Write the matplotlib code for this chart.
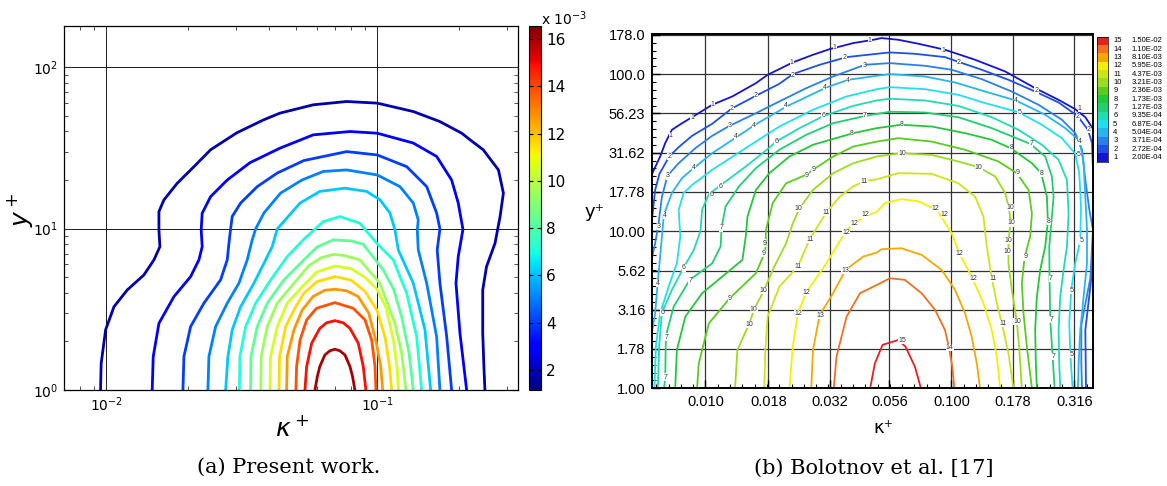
import matplotlib
matplotlib.use("Agg")
import matplotlib.pyplot as plt
from matplotlib import colors as mcolors
from matplotlib.ticker import FixedLocator, NullFormatter
import numpy as np

# ---------------- (a) present work ----------------
# contour levels (units of 1e-3), innermost is the highest
a_levels = [1.8, 2.9, 4.0, 5.0, 6.1, 7.2, 8.3, 9.4, 10.5, 11.6, 12.7, 13.8, 14.9, 16.0]
a_cbar_range = (1.15, 16.55)
a_cbar_ticks = [2, 4, 6, 8, 10, 12, 14, 16]

# each contour: (kappa+, y+) points
a_c01 = [(0.00953, 1.0), (0.00958, 1.46), (0.00995, 2.36), (0.01068, 3.28), (0.01196, 4.17),
         (0.01377, 5.16), (0.0150, 6.40), (0.01578, 7.73), (0.01565, 9.81), (0.01565, 12.75),
         (0.01633, 15.07), (0.01828, 19.1), (0.02107, 24.2), (0.02428, 30.8), (0.0303, 39.2),
         (0.0381, 47.2), (0.0437, 51.9), (0.0581, 58.5), (0.0771, 61.3), (0.100, 59.9),
         (0.136, 53.1), (0.170, 46.1), (0.205, 39.0), (0.220, 35.5), (0.246, 30.8), (0.280, 23.1),
         (0.292, 16.6), (0.284, 11.9), (0.272, 8.12), (0.253, 5.81), (0.245, 4.17), (0.245, 2.25),
         (0.2475, 1.39), (0.2496, 1.0)]
a_c02 = [(0.01478, 1.0), (0.01491, 1.61), (0.01565, 2.59), (0.01778, 3.79), (0.02048, 5.04),
         (0.02198, 6.40), (0.02260, 7.73), (0.02241, 9.82), (0.02260, 12.46), (0.02428, 15.79),
         (0.02796, 20.0), (0.0339, 25.6), (0.04375, 31.5), (0.05805, 38.1), (0.0793, 39.95),
         (0.100, 39.0), (0.1358, 33.9), (0.1656, 28.0), (0.1881, 20.0), (0.1990, 14.4),
         (0.2071, 9.89), (0.1990, 6.71), (0.1952, 4.59), (0.2019, 2.25), (0.2137, 1.0)]
a_c03 = [(0.01919, 1.0), (0.01935, 1.61), (0.02048, 2.47), (0.02293, 3.45), (0.02642, 4.81),
         (0.02796, 6.40), (0.02837, 8.12), (0.02877, 9.95), (0.02917, 11.9), (0.03133, 14.4),
         (0.03607, 18.2), (0.04276, 22.1), (0.0536, 26.4), (0.0771, 30.0), (0.100, 28.6),
         (0.1284, 24.2), (0.1522, 18.2), (0.1656, 12.5), (0.1703, 9.95), (0.1664, 7.38),
         (0.1703, 4.59), (0.1804, 2.14), (0.1881, 1.0)]
a_c04 = [(0.02373, 1.0), (0.02393, 1.61), (0.02533, 2.47), (0.02796, 3.45), (0.03088, 4.59),
         (0.03313, 6.40), (0.03457, 8.51), (0.03558, 9.95), (0.03819, 12.5), (0.04399, 16.6),
         (0.05274, 20.0), (0.06322, 22.6), (0.0771, 23.1), (0.100, 21.5), (0.1213, 18.2),
         (0.1358, 14.4), (0.1417, 11.3), (0.1405, 9.82), (0.1417, 7.38), (0.1522, 4.59),
         (0.1656, 2.14), (0.1703, 1.0)]
a_c05 = [(0.02758, 1.0), (0.02812, 1.61), (0.02917, 2.36), (0.03133, 3.28), (0.03508, 4.59),
         (0.03819, 6.10), (0.04097, 7.73), (0.04276, 9.95), (0.0519, 14.4), (0.0614, 17.0),
         (0.0760, 17.8), (0.0914, 17.0), (0.1023, 15.1), (0.1114, 12.5), (0.1162, 9.82),
         (0.1196, 7.38), (0.1358, 4.59), (0.150, 2.36), (0.1574, 1.0)]
a_c06 = [(0.0310, 1.0), (0.03113, 1.61), (0.03269, 2.47), (0.03558, 3.45), (0.04044, 4.81),
         (0.04655, 6.71), (0.0540, 8.7), (0.0632, 11.05), (0.0728, 11.87), (0.0863, 10.8),
         (0.0995, 8.12), (0.1146, 6.40), (0.1284, 3.98), (0.1398, 2.14), (0.1458, 1.0)]
a_c07 = [(0.0341, 1.0), (0.0342, 1.61), (0.03607, 2.47), (0.03927, 3.45), (0.04524, 4.81),
         (0.05364, 6.40), (0.0600, 7.7), (0.0688, 8.51), (0.0800, 8.4), (0.0888, 8.0),
         (0.1052, 5.55), (0.1150, 4.2), (0.1230, 2.85), (0.1310, 1.7), (0.1358, 1.0)]
a_c08 = [(0.0372, 1.0), (0.0373, 1.61), (0.03927, 2.47), (0.04276, 3.45), (0.04927, 4.59),
         (0.0560, 5.9), (0.0620, 6.6), (0.0690, 6.93), (0.0760, 6.8), (0.0863, 6.40),
         (0.1023, 4.59), (0.1162, 2.59), (0.1230, 1.7), (0.1276, 1.0)]
a_c09 = [(0.0402, 1.0), (0.0404, 1.61), (0.04276, 2.47), (0.04655, 3.45), (0.05287, 4.37),
         (0.0600, 5.4), (0.0699, 5.87), (0.0800, 5.65), (0.0900, 5.0), (0.1000, 4.2),
         (0.1080, 3.2), (0.1150, 2.0), (0.1185, 1.35), (0.1196, 1.0)]
a_c10 = [(0.0434, 1.0), (0.0436, 1.61), (0.04592, 2.47), (0.0500, 3.28), (0.05364, 3.98),
         (0.0600, 4.7), (0.0699, 5.04), (0.0800, 4.8), (0.0900, 4.1), (0.1000, 3.1),
         (0.1070, 2.1), (0.1110, 1.40), (0.1130, 1.0)]
a_c11 = [(0.0463, 1.0), (0.04655, 1.61), (0.04927, 2.36), (0.05287, 3.13), (0.0580, 3.8),
         (0.0640, 4.15), (0.0699, 4.21), (0.0770, 4.12), (0.0850, 3.8), (0.0930, 3.0),
         (0.0990, 2.0), (0.1030, 1.40), (0.1047, 1.0)]
a_c12 = [(0.0501, 1.0), (0.0504, 1.40), (0.0519, 2.04), (0.0549, 2.72), (0.0597, 3.21),
         (0.0698, 3.48), (0.0815, 3.21), (0.0901, 2.72), (0.0954, 2.04), (0.0981, 1.40),
         (0.0989, 1.0)]
a_c13 = [(0.0541, 1.0), (0.0549, 1.40), (0.0573, 1.95), (0.0614, 2.41), (0.0650, 2.61),
         (0.0698, 2.69), (0.0749, 2.61), (0.0793, 2.41), (0.0851, 1.95), (0.0888, 1.40),
         (0.0908, 1.0)]
a_c14 = [(0.0589, 1.0), (0.0601, 1.21), (0.0614, 1.40), (0.0641, 1.65), (0.0669, 1.75),
         (0.0698, 1.79), (0.0728, 1.75), (0.0760, 1.65), (0.0793, 1.40), (0.0811, 1.21),
         (0.0827, 1.0)]
a_contours = [a_c01, a_c02, a_c03, a_c04, a_c05, a_c06, a_c07,
              a_c08, a_c09, a_c10, a_c11, a_c12, a_c13, a_c14]

# ---------------- (b) Bolotnov et al. ----------------
b_levels = list(range(1, 16))
b_values = ["2.00E-04", "2.72E-04", "3.71E-04", "5.04E-04", "6.87E-04", "9.35E-04",
            "1.27E-03", "1.73E-03", "2.36E-03", "3.21E-03", "4.37E-03", "5.95E-03",
            "8.10E-03", "1.10E-02", "1.50E-02"]
b_colors = ["#1414d2", "#1e50e6", "#2a80ea", "#28b4f0", "#20e0f0", "#20dcb0", "#20d070",
            "#22c83a", "#5acc20", "#9cdc20", "#cce41c", "#f5f000", "#f5a800", "#f07020",
            "#e62020"]
b_xticks = [0.010, 0.018, 0.032, 0.056, 0.100, 0.178, 0.316]
b_xlabels = ["0.010", "0.018", "0.032", "0.056", "0.100", "0.178", "0.316"]
b_yticks = [1.0, 1.78, 3.16, 5.62, 10.0, 17.78, 31.62, 56.23, 100.0, 178.0]
b_ylabels = ["1.00", "1.78", "3.16", "5.62", "10.00", "17.78", "31.62", "56.23", "100.0", "178.0"]

b_c01 = [(0.00608, 23.4), (0.00654, 29.9), (0.00686, 36.4), (0.00730, 44.2), (0.00803, 48.7),
         (0.00882, 53.2), (0.01065, 63.8), (0.01286, 72.1), (0.01603, 87.6), (0.01790, 99.0),
         (0.02265, 118.7), (0.02736, 132.8), (0.03203, 144.3), (0.03991, 157.6), (0.04821, 165.5),
         (0.0520, 169.6), (0.0608, 165.5), (0.0734, 156.1), (0.0942, 142.9), (0.1249, 123.4),
         (0.1655, 104.0), (0.2192, 81.4), (0.2729, 68.6), (0.3191, 59.8), (0.3506, 53.2),
         (0.3791, 44.2)]
b_c02 = [(0.00608, 12.4), (0.00624, 18.3), (0.00650, 23.2), (0.00712, 29.9), (0.00778, 34.3),
         (0.00882, 40.5), (0.01065, 48.3), (0.01278, 60.4), (0.01603, 72.8), (0.01998, 86.8),
         (0.02265, 100.0), (0.02914, 114.7), (0.03748, 128.3), (0.04975, 134.7), (0.05623, 137.4),
         (0.0711, 134.7), (0.0942, 128.3), (0.1077, 119.2), (0.1329, 106.6), (0.1707, 92.0),
         (0.2192, 77.5), (0.2729, 66.0), (0.3252, 54.3), (0.3595, 44.2), (0.3732, 36.4),
         (0.3779, 21.2), (0.3779, 10.2), (0.3709, 5.02), (0.3506, 2.35), (0.3528, 1.0)]
b_c03 = [(0.00608, 6.90), (0.00624, 8.38), (0.00642, 10.7), (0.00665, 16.6), (0.00701, 22.6),
         (0.00778, 27.1), (0.00910, 33.8), (0.01065, 40.5), (0.01254, 46.9), (0.01603, 56.4),
         (0.01998, 67.0), (0.02569, 81.4), (0.03304, 96.6), (0.04456, 114.7), (0.05623, 117.5),
         (0.0781, 113.0), (0.1003, 106.6), (0.1329, 92.9), (0.1761, 77.5), (0.2262, 63.8),
         (0.2816, 51.2), (0.3191, 42.1), (0.3398, 33.0), (0.3506, 21.2), (0.3640, 13.7),
         (0.3767, 10.2), (0.3674, 5.02), (0.3377, 2.53), (0.3377, 1.44), (0.3398, 1.0)]
b_c04 = [(0.00608, 2.35), (0.00624, 3.00), (0.00638, 4.55), (0.00654, 6.90), (0.00665, 9.25),
         (0.00677, 12.7), (0.00730, 17.5), (0.00803, 21.8), (0.00887, 24.9), (0.01065, 31.4),
         (0.01246, 36.9), (0.01603, 48.0), (0.02161, 62.8), (0.03103, 82.2), (0.03807, 92.0),
         (0.04975, 97.6), (0.05623, 100.0), (0.0781, 96.6), (0.1035, 88.5), (0.1371, 77.5),
         (0.1829, 68.0), (0.2408, 55.1), (0.2905, 45.3), (0.3324, 37.6), (0.3451, 27.1),
         (0.3506, 16.6), (0.3561, 10.2), (0.3561, 6.25), (0.3451, 3.84), (0.3345, 2.35),
         (0.3293, 1.44), (0.3272, 1.0)]
b_c05 = [(0.00620, 1.0), (0.00628, 1.84), (0.00654, 3.00), (0.00708, 4.44), (0.00765, 6.25),
         (0.00790, 9.25), (0.00778, 13.7), (0.00815, 17.5), (0.00882, 19.7), (0.01065, 24.6),
         (0.01458, 33.8), (0.01998, 46.4), (0.02736, 59.3), (0.03748, 72.1), (0.04975, 80.2),
         (0.05623, 82.6), (0.0781, 80.2), (0.1067, 73.9), (0.1371, 65.4), (0.1875, 57.3),
         (0.2334, 47.6), (0.2816, 39.1), (0.3191, 31.1), (0.3313, 23.4), (0.3366, 14.4),
         (0.3345, 8.72), (0.3191, 6.25), (0.3073, 4.23), (0.3016, 2.59), (0.3045, 1.67),
         (0.3112, 1.0)]
b_c06 = [(0.00640, 1.0), (0.00648, 1.84), (0.00665, 3.03), (0.00730, 4.23), (0.00815, 5.87),
         (0.00896, 7.60), (0.00954, 10.0), (0.00969, 13.7), (0.01032, 17.2), (0.01141, 19.4),
         (0.01458, 25.8), (0.01790, 33.3), (0.01936, 37.2), (0.02413, 45.3), (0.03035, 54.3),
         (0.03991, 62.8), (0.04975, 68.0), (0.05623, 69.7), (0.0781, 68.0), (0.1067, 62.8),
         (0.1460, 53.2), (0.1875, 44.2), (0.2334, 35.5), (0.2729, 28.5), (0.2951, 21.2),
         (0.2998, 13.0), (0.2951, 7.99), (0.2860, 5.67), (0.2772, 3.84), (0.2729, 2.35),
         (0.2746, 1.44), (0.2772, 1.0)]
b_c07 = [(0.00679, 1.0), (0.00686, 1.19), (0.00690, 2.15), (0.00742, 3.31), (0.00863, 4.90),
         (0.01065, 6.25), (0.01152, 7.99), (0.01163, 10.6), (0.01208, 14.4), (0.01369, 19.3),
         (0.01603, 25.2), (0.01998, 33.0), (0.02569, 41.1), (0.03304, 48.7), (0.04484, 54.3),
         (0.05623, 57.6), (0.0781, 57.0), (0.1067, 53.2), (0.1460, 45.3), (0.2092, 36.0),
         (0.2408, 29.9), (0.2564, 22.3), (0.2604, 16.6), (0.2564, 12.4), (0.2501, 7.99),
         (0.2508, 5.02), (0.2524, 2.72), (0.2580, 1.63), (0.2629, 1.0)]
b_c08 = [(0.00753, 1.0), (0.00765, 1.75), (0.00828, 2.86), (0.00969, 4.03), (0.01170, 5.14),
         (0.01413, 6.57), (0.01458, 9.25), (0.01482, 12.4), (0.01603, 18.3), (0.01818, 23.4),
         (0.02195, 29.9), (0.02736, 35.5), (0.03991, 42.1), (0.04975, 45.3), (0.0623, 47.6),
         (0.0832, 46.4), (0.1137, 42.1), (0.1460, 38.2), (0.1739, 33.8), (0.2126, 27.1),
         (0.2320, 23.4), (0.2446, 16.6), (0.2469, 11.5), (0.2408, 7.99), (0.2298, 5.67),
         (0.2227, 3.84), (0.2192, 2.35), (0.2206, 1.44), (0.2227, 1.0)]
b_c09 = [(0.00924, 1.0), (0.00939, 1.44), (0.01032, 2.59), (0.01254, 3.74), (0.01603, 5.40),
         (0.01751, 7.42), (0.01762, 10.2), (0.01876, 15.1), (0.02128, 20.2), (0.02569, 22.9),
         (0.02736, 24.6), (0.03304, 29.9), (0.03991, 34.6), (0.04975, 37.2), (0.0608, 39.1),
         (0.0832, 37.2), (0.1137, 33.0), (0.1554, 27.8), (0.1846, 23.4), (0.2060, 18.3),
         (0.2126, 13.0), (0.2092, 9.25), (0.1984, 6.80), (0.1935, 4.67), (0.1965, 3.00),
         (0.2028, 1.84), (0.2126, 1.0)]
b_c10 = [(0.01319, 1.0), (0.01348, 1.75), (0.01505, 2.57), (0.01578, 3.19), (0.01734, 4.23),
         (0.01876, 5.67), (0.02128, 8.38), (0.02265, 11.2), (0.02413, 14.0), (0.02736, 18.3),
         (0.03304, 23.4), (0.03991, 27.1), (0.04975, 29.9), (0.0623, 31.4), (0.0832, 30.6),
         (0.1067, 27.8), (0.1289, 25.6), (0.1507, 22.3), (0.1655, 17.5), (0.1718, 13.9),
         (0.1739, 11.5), (0.1707, 8.38), (0.1707, 6.25), (0.1761, 4.23), (0.1846, 2.66),
         (0.1887, 1.84), (0.1935, 1.0)]
b_c11 = [(0.01734, 1.0), (0.01751, 1.75), (0.01790, 2.86), (0.01998, 4.44), (0.02375, 5.96),
         (0.02651, 8.89), (0.03103, 13.2), (0.03519, 16.6), (0.03991, 19.3), (0.04456, 20.9),
         (0.04975, 21.4), (0.0608, 23.4), (0.0832, 23.2), (0.1067, 20.2), (0.1249, 16.6),
         (0.1350, 12.4), (0.1393, 7.99), (0.1460, 5.02), (0.1531, 3.48), (0.1604, 2.59),
         (0.1707, 1.67), (0.1789, 1.0)]
b_c12 = [(0.02195, 1.0), (0.02265, 1.84), (0.02375, 3.00), (0.02569, 4.07), (0.03103, 6.25),
         (0.03748, 10.2), (0.04119, 11.5), (0.04456, 12.4), (0.04975, 13.3), (0.0537, 15.1),
         (0.0627, 16.0), (0.0734, 15.5), (0.0872, 13.7), (0.1003, 9.71), (0.1077, 7.24),
         (0.1218, 5.02), (0.1350, 3.48), (0.1460, 2.35), (0.1531, 1.59), (0.1579, 1.0)]
b_c13 = [(0.02693, 1.0), (0.02736, 1.75), (0.02914, 2.93), (0.03304, 4.03), (0.03713, 5.67),
         (0.04386, 6.90), (0.04975, 7.31), (0.0520, 7.68), (0.0627, 7.79), (0.0757, 7.07),
         (0.0913, 5.67), (0.1035, 4.23), (0.1137, 3.00), (0.1210, 2.13), (0.1269, 1.44),
         (0.1309, 1.0)]
b_c14 = [(0.03325, 1.0), (0.03410, 1.59), (0.03748, 2.86), (0.04250, 4.03), (0.04975, 4.55),
         (0.05623, 5.02), (0.0647, 4.90), (0.0757, 4.03), (0.0858, 3.16), (0.0942, 2.35),
         (0.0978, 1.82), (0.1009, 1.37), (0.1028, 1.0)]
b_c15 = [(0.04675, 1.0), (0.04885, 1.44), (0.0525, 1.89), (0.0608, 2.03), (0.0651, 1.84),
         (0.0711, 1.37), (0.0752, 1.0)]
b_contours = [b_c01, b_c02, b_c03, b_c04, b_c05, b_c06, b_c07, b_c08,
              b_c09, b_c10, b_c11, b_c12, b_c13, b_c14, b_c15]

# inline contour labels (kappa+, y+, text)
b_tags = [
    (0.0466, 164.7, "1"), (0.0335, 147.2, "1"), (0.0224, 118.1, "1"), (0.01069, 64.1, "1"),
    (0.00882, 53.0, "1"), (0.00722, 40.5, "1"), (0.0926, 142.2, "1"), (0.3331, 60.4, "1"),
    (0.0368, 127.7, "2"), (0.0227, 98.5, "2"), (0.0160, 73.5, "2"), (0.01278, 60.4, "2"),
    (0.00714, 29.8, "2"), (0.1073, 119.2, "2"), (0.2218, 79.1, "2"), (0.3272, 53.5, "2"),
    (0.3623, 44.4, "2"),
    (0.0442, 114.1, "3"), (0.01256, 46.9, "3"), (0.00704, 22.5, "3"), (0.00645, 10.7, "3"),
    (0.0379, 90.7, "4"), (0.0307, 82.2, "4"), (0.0213, 62.8, "4"), (0.01577, 47.3, "4"),
    (0.01333, 39.9, "4"), (0.00897, 25.3, "4"), (0.00685, 12.6, "4"), (0.00639, 4.64, "4"),
    (0.1835, 67.6, "4"), (0.3331, 37.1, "4"),
    (0.1894, 57.0, "5"), (0.3296, 30.8, "5"), (0.3378, 8.68, "5"), (0.3073, 4.21, "5"),
    (0.3073, 1.65, "5"),
    (0.0302, 54.3, "6"), (0.0194, 37.1, "6"), (0.01151, 19.4, "6"), (0.01054, 17.1, "6"),
    (0.00816, 5.84, "6"), (0.00668, 3.03, "6"),
    (0.0444, 54.3, "7"), (0.01159, 10.5, "7"), (0.00866, 4.87, "7"), (0.00697, 2.12, "7"),
    (0.00685, 1.18, "7"), (0.2111, 36.2, "7"), (0.2533, 4.99, "7"), (0.2551, 2.74, "7"),
    (0.2597, 1.60, "7"),
    (0.0630, 47.8, "8"), (0.0395, 41.9, "8"), (0.1753, 33.9, "8"), (0.2321, 23.3, "8"),
    (0.2489, 11.5, "8"),
    (0.0258, 22.7, "9"), (0.0275, 24.7, "9"), (0.01734, 8.4, "9"), (0.01722, 7.2, "9"),
    (0.01256, 3.73, "9"), (0.1861, 23.5, "9"), (0.1996, 6.86, "9"),
    (0.0630, 31.2, "10"), (0.1293, 25.4, "10"), (0.0239, 13.9, "10"), (0.01722, 4.21, "10"),
    (0.01572, 3.17, "10"), (0.01507, 2.56, "10"), (0.1735, 14.1, "10"), (0.1753, 11.3, "10"),
    (0.1704, 8.7, "10"), (0.1693, 7.4, "10"), (0.1848, 2.67, "10"),
    (0.0442, 20.6, "11"), (0.0309, 13.2, "11"), (0.0266, 8.85, "11"), (0.0238, 5.93, "11"),
    (0.1472, 4.99, "11"), (0.1618, 2.58, "11"),
    (0.0447, 12.7, "12"), (0.0402, 11.2, "12"), (0.0374, 9.8, "12"), (0.0257, 4.07, "12"),
    (0.0238, 2.99, "12"), (0.1081, 7.21, "12"), (0.1227, 4.99, "12"), (0.0865, 14.0, "12"),
    (0.0940, 12.8, "12"),
    (0.0370, 5.64, "13"), (0.0293, 2.92, "13"),
    (0.0983, 1.81, "14"), (0.0630, 2.02, "15"),
]

SANS = ["Liberation Sans", "DejaVu Sans"]

fig = plt.figure(figsize=(11.67, 4.86), dpi=100)
ax_a = fig.add_axes([0.0546, 0.1975, 0.3897, 0.7490])
cax = fig.add_axes([0.4529, 0.1975, 0.0111, 0.7490])
ax_b = fig.add_axes([0.5590, 0.2010, 0.3779, 0.7290])
ax_leg = fig.add_axes([0.9398, 0.6673, 0.0097, 0.2572])

# ---- panel (a) ----
cmap = plt.get_cmap("jet")
norm = mcolors.Normalize(vmin=a_cbar_range[0], vmax=a_cbar_range[1])
for lvl, pts in zip(a_levels, a_contours):
    k, y = zip(*pts)
    ax_a.plot(k, y, color=cmap(norm(lvl)), lw=2.0, solid_joinstyle="round",
              solid_capstyle="butt")

ax_a.set_xscale("log")
ax_a.set_yscale("log")
ax_a.set_xlim(0.00697, 0.332)
ax_a.set_ylim(1, 180)
ax_a.grid(True, which="major", color="#1a1a1a", lw=0.7)
ax_a.xaxis.set_minor_formatter(NullFormatter())
ax_a.yaxis.set_minor_formatter(NullFormatter())
ax_a.tick_params(which="both", direction="in", top=True, right=True, labelsize=10,
                 color="#333333")
ax_a.tick_params(which="major", length=5, pad=4)
ax_a.tick_params(which="minor", length=3)
for sp in ax_a.spines.values():
    sp.set_linewidth(0.9)

fig.colorbar(plt.cm.ScalarMappable(norm=norm, cmap=cmap), cax=cax)
cax.set_yticks(a_cbar_ticks)
cax.tick_params(direction="in", length=3, labelsize=11, left=True, right=True)
cax.yaxis.set_minor_locator(FixedLocator([]))
fig.text(541 / 1167, 1 - 19 / 486, r"x 10$^{-3}$", fontsize=10, va="center", ha="left")

fig.text(20 / 1167, 1 - 210 / 486, r"$y^+$", fontsize=18, rotation=90,
         ha="center", va="center")
fig.text(292 / 1167, 1 - 428 / 486, r"$\kappa^+$", fontsize=18, ha="center", va="center")
fig.text(289 / 1167, 1 - 467 / 486, "(a) Present work.", fontsize=15,
         family="DejaVu Serif", ha="center", va="center")

# ---- panel (b) ----
for lvl, pts in zip(b_levels, b_contours):
    k, y = zip(*pts)
    ax_b.plot(k, y, color=b_colors[lvl - 1], lw=1.3, solid_joinstyle="round", zorder=2)

for k, y, txt in b_tags:
    ax_b.text(k, y, txt, fontsize=5.0, color="#333333", ha="center", va="center",
              family=SANS, zorder=3,
              bbox=dict(facecolor="white", edgecolor="none", pad=0.1))

ax_b.set_xscale("log")
ax_b.set_yscale("log")
ax_b.set_xlim(0.00608, 0.378)
ax_b.set_ylim(1, 180)
ax_b.xaxis.set_major_locator(FixedLocator(b_xticks))
ax_b.yaxis.set_major_locator(FixedLocator(b_yticks))
ax_b.set_xticklabels(b_xlabels, family=SANS, fontsize=10.5)
ax_b.set_yticklabels(b_ylabels, family=SANS, fontsize=10.5)
ax_b.xaxis.set_minor_locator(FixedLocator(10 ** np.arange(-2.25, -0.40, 0.05)))
ax_b.yaxis.set_minor_locator(FixedLocator(10 ** np.arange(0, 2.3, 0.05)))
ax_b.xaxis.set_minor_formatter(NullFormatter())
ax_b.yaxis.set_minor_formatter(NullFormatter())
ax_b.grid(True, which="major", color="#333333", lw=0.9, zorder=1)
ax_b.tick_params(which="both", direction="in", top=False, right=False)
ax_b.tick_params(which="major", length=6, width=1.0, pad=5)
ax_b.tick_params(which="minor", length=3, width=0.8)
for sp in ax_b.spines.values():
    sp.set_linewidth(1.4)

fig.text(595 / 1167, 1 - 212 / 486, "y\u207a", fontsize=13, family=["DejaVu Sans"],
         ha="center", va="center")
fig.text(883 / 1167, 1 - 428 / 486, "\u03ba\u207a", fontsize=13, family=["DejaVu Sans"],
         ha="center", va="center")
fig.text(874 / 1167, 1 - 468 / 486, "(b) Bolotnov et al. [17]", fontsize=15,
         family="DejaVu Serif", ha="center", va="center")

# ---- tecplot style contour legend ----
ax_leg.barh(b_levels, [1] * len(b_levels), height=1.0, color=b_colors, edgecolor="none")
ax_leg.set_xlim(0, 1)
ax_leg.set_ylim(0.5, 15.5)
ax_leg.set_xticks([])
ax_leg.set_yticks([])
for sp in ax_leg.spines.values():
    sp.set_linewidth(0.5)
for lvl, val in zip(b_levels, b_values):
    ax_leg.text(1.45, lvl, str(lvl), fontsize=5.5, family=SANS, va="center", ha="left",
                clip_on=False)
    ax_leg.text(3.1, lvl, val, fontsize=5.5, family=SANS, va="center", ha="left",
                clip_on=False)

fig.savefig("out.png", dpi=100)
